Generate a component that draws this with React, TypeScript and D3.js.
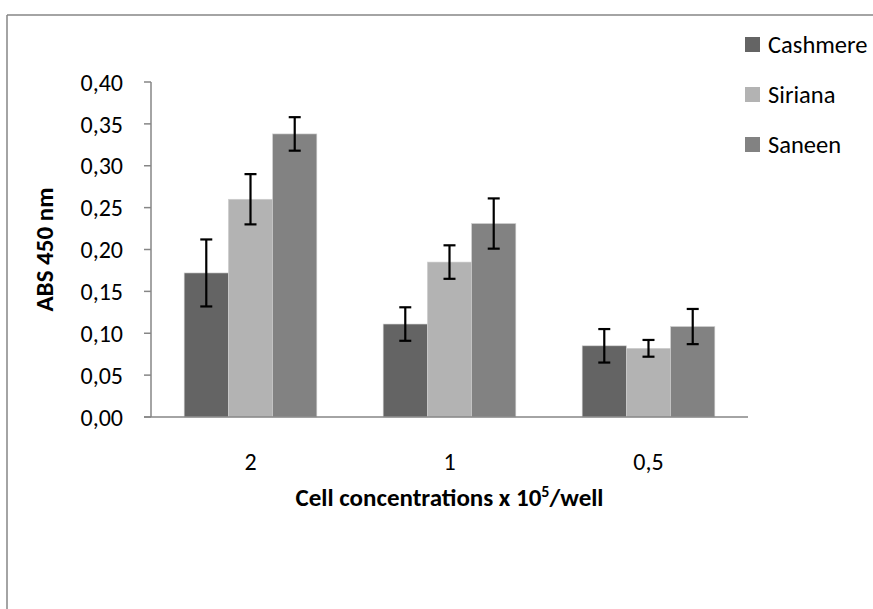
import React from 'react';
import * as d3 from 'd3';

// chart data
const categories = ['2', '1', '0,5'];
const seriesNames = ['Cashmere', 'Siriana', 'Saneen'];
const cashmere = [0.172, 0.111, 0.085];
const siriana = [0.260, 0.185, 0.082];
const saneen = [0.338, 0.231, 0.108];
const cashmereErr = [0.040, 0.020, 0.020];
const sirianaErr = [0.030, 0.020, 0.010];
const saneenErr = [0.020, 0.030, 0.021];
const yTicks = [0, 0.05, 0.1, 0.15, 0.2, 0.25, 0.3, 0.35, 0.4];

const seriesColors = ['#646464', '#b3b3b3', '#828282'];

const App = () => {
  const width = 873;
  const height = 609;
  const plot = { left: 151, right: 748, top: 82, bottom: 417 };

  const values = [cashmere, siriana, saneen];
  const errors = [cashmereErr, sirianaErr, saneenErr];

  // scales
  const x0 = d3.scaleBand<string>()
    .domain(categories)
    .range([plot.left, plot.right])
    .paddingInner(0)
    .paddingOuter(0);

  // Excel-like gap width 150%: 3 bars + 1.5 bar widths per category
  const barW = x0.bandwidth() / 4.5;
  const x1 = d3.scaleBand<string>()
    .domain(seriesNames)
    .range([barW * 0.75, barW * 3.75]);

  const y = d3.scaleLinear()
    .domain([0, 0.4])
    .range([plot.bottom, plot.top]);

  const fmt = (v: number) => v.toFixed(2).replace('.', ',');
  const font = "Calibri, Carlito, 'Open Sans', sans-serif";
  const axisColor = '#868686';

  return (
    <svg
      width={width}
      height={height}
      style={{ position: 'absolute', left: 0, top: 0, background: '#fff' }}
      fontFamily={font}
    >
      {/* outer frame (cropped) */}
      <line x1={7} y1={15} x2={width} y2={15} stroke={axisColor} strokeWidth={1.5} />
      <line x1={7} y1={15} x2={7} y2={height} stroke={axisColor} strokeWidth={1.5} />

      {/* bars */}
      {seriesNames.map((s, si) => (
        <g key={s}>
          {categories.map((c, ci) => {
            const bx = (x0(c) ?? 0) + (x1(s) ?? 0);
            const v = values[si][ci];
            return (
              <rect
                key={c}
                x={bx}
                y={y(v)}
                width={x1.bandwidth()}
                height={y(0) - y(v)}
                fill={seriesColors[si]}
                stroke="#d0d0d0"
                strokeWidth={0.6}
              />
            );
          })}
        </g>
      ))}

      {/* y axis */}
      <line x1={plot.left} y1={plot.top} x2={plot.left} y2={plot.bottom} stroke={axisColor} strokeWidth={1.5} />
      {yTicks.map((t) => (
        <g key={t}>
          <line x1={plot.left - 7} x2={plot.left} y1={y(t)} y2={y(t)} stroke={axisColor} strokeWidth={1.5} />
          <text x={123} y={y(t)} dy="0.36em" textAnchor="end" fontSize={24} fill="#000">
            {fmt(t)}
          </text>
        </g>
      ))}

      {/* x axis */}
      <line x1={plot.left - 7} x2={plot.right} y1={plot.bottom} y2={plot.bottom} stroke={axisColor} strokeWidth={1.5} />
      {categories.map((c) => (
        <text
          key={c}
          x={(x0(c) ?? 0) + x0.bandwidth() / 2}
          y={470}
          textAnchor="middle"
          fontSize={24}
          fill="#000"
        >
          {c}
        </text>
      ))}

      {/* error bars */}
      {seriesNames.map((s, si) => (
        <g key={s} stroke="#000" strokeWidth={2.2}>
          {categories.map((c, ci) => {
            const cx = (x0(c) ?? 0) + (x1(s) ?? 0) + x1.bandwidth() / 2;
            const v = values[si][ci];
            const e = errors[si][ci];
            return (
              <g key={c}>
                <line x1={cx} x2={cx} y1={y(v + e)} y2={y(v - e)} />
                <line x1={cx - 6} x2={cx + 6} y1={y(v + e)} y2={y(v + e)} />
                <line x1={cx - 6} x2={cx + 6} y1={y(v - e)} y2={y(v - e)} />
              </g>
            );
          })}
        </g>
      ))}

      {/* axis titles */}
      <text
        x={(plot.left + plot.right) / 2}
        y={506}
        textAnchor="middle"
        fontSize={25}
        fontWeight="bold"
        fill="#000"
      >
        Cell concentrations x 10
        <tspan dy={-9} fontSize={16}>5</tspan>
        <tspan dy={9}>/well</tspan>
      </text>
      <text
        transform={`translate(53,${(plot.top + plot.bottom) / 2}) rotate(-90)`}
        textAnchor="middle"
        fontSize={25}
        fontWeight="bold"
        fill="#000"
      >
        ABS 450 nm
      </text>

      {/* legend */}
      {seriesNames.map((s, si) => (
        <g key={s} transform={`translate(745,${44 + si * 50})`}>
          <rect x={0} y={-7} width={15} height={15} fill={seriesColors[si]} />
          <text x={23} y={0} dy="0.36em" fontSize={24.5} fill="#000">
            {s}
          </text>
        </g>
      ))}
    </svg>
  );
};

export default App;
